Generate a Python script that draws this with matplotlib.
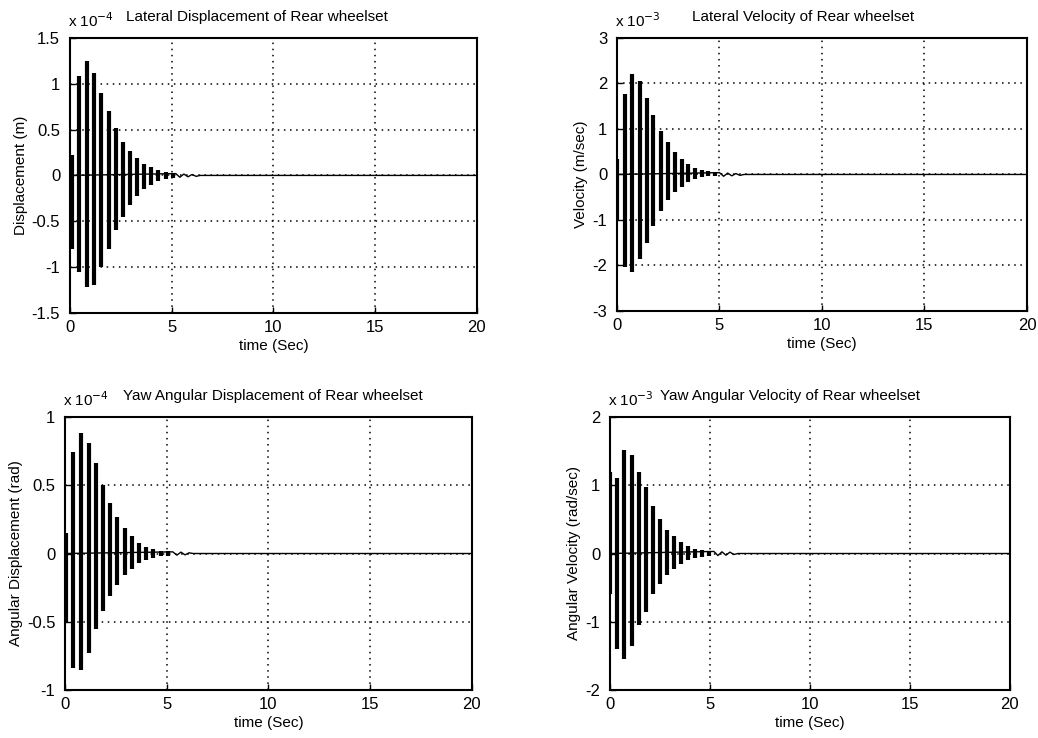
import matplotlib
matplotlib.use("Agg")
import matplotlib.pyplot as plt

plt.rcParams['font.family'] = ['Liberation Sans', 'DejaVu Sans']

# ---------------- data ----------------
x_ticks = [0, 5, 10, 15, 20]
x_tick_labels = ["0", "5", "10", "15", "20"]

# Panel 1: lateral displacement (x 1e-4 m)
p1_t   = [0.10, 0.45, 0.85, 1.20, 1.55, 1.90, 2.25, 2.60, 2.95, 3.30, 3.65, 4.00, 4.35, 4.70, 5.05]
p1_top = [0.22, 1.08, 1.25, 1.12, 0.90, 0.70, 0.52, 0.37, 0.27, 0.19, 0.13, 0.09, 0.06, 0.04, 0.025]
p1_bot = [-0.80, -1.05, -1.22, -1.20, -1.00, -0.80, -0.60, -0.45, -0.32, -0.22, -0.15, -0.10, -0.06, -0.04, -0.025]
p1_tail_t = [0.0, 5.2, 5.4, 5.6, 5.8, 6.0, 6.2, 6.4, 20.0]
p1_tail_v = [0.0, 0.02, -0.02, 0.015, -0.015, 0.01, -0.01, 0.0, 0.0]
p1_yticks = [-1.5, -1, -0.5, 0, 0.5, 1, 1.5]
p1_ylabels = ["-1.5", "-1", "-0.5", "0", "0.5", "1", "1.5"]

# Panel 2: lateral velocity (x 1e-3 m/sec)
p2_t   = [0.02, 0.39, 0.75, 1.12, 1.45, 1.77, 2.13, 2.50, 2.83, 3.15, 3.48, 3.80, 4.13, 4.46, 4.80]
p2_top = [0.35, 1.76, 2.20, 2.05, 1.69, 1.30, 0.96, 0.71, 0.49, 0.35, 0.24, 0.15, 0.10, 0.07, 0.04]
p2_bot = [-1.03, -2.04, -2.15, -1.86, -1.50, -1.14, -0.81, -0.56, -0.38, -0.27, -0.16, -0.10, -0.06, -0.04, -0.03]
p2_tail_t = [0.0, 5.0, 5.2, 5.4, 5.6, 5.8, 6.0, 6.2, 20.0]
p2_tail_v = [0.0, 0.04, -0.04, 0.03, -0.03, 0.02, -0.02, 0.0, 0.0]
p2_yticks = [-3, -2, -1, 0, 1, 2, 3]
p2_ylabels = ["-3", "-2", "-1", "0", "1", "2", "3"]

# Panel 3: yaw angular displacement (x 1e-4 rad)
p3_t   = [0.07, 0.39, 0.80, 1.18, 1.54, 1.87, 2.23, 2.57, 2.93, 3.29, 3.65, 4.00, 4.35, 4.70, 5.05]
p3_top = [0.15, 0.74, 0.88, 0.81, 0.66, 0.50, 0.37, 0.27, 0.19, 0.13, 0.08, 0.05, 0.035, 0.02, 0.015]
p3_bot = [-0.50, -0.84, -0.85, -0.73, -0.55, -0.42, -0.31, -0.23, -0.16, -0.11, -0.07, -0.05, -0.035, -0.02, -0.015]
p3_tail_t = [0.0, 5.3, 5.5, 5.7, 5.9, 6.1, 6.3, 20.0]
p3_tail_v = [0.0, 0.012, -0.012, 0.01, -0.01, 0.005, 0.0, 0.0]
p3_yticks = [-1, -0.5, 0, 0.5, 1]
p3_ylabels = ["-1", "-0.5", "0", "0.5", "1"]

# Panel 4: yaw angular velocity (x 1e-3 rad/sec)
p4_t   = [0.02, 0.37, 0.72, 1.08, 1.45, 1.80, 2.17, 2.50, 2.83, 3.20, 3.53, 3.88, 4.23, 4.58, 4.93]
p4_top = [1.20, 1.10, 1.52, 1.45, 1.20, 0.98, 0.70, 0.50, 0.35, 0.25, 0.17, 0.11, 0.07, 0.05, 0.03]
p4_bot = [-0.60, -1.40, -1.55, -1.35, -1.05, -0.85, -0.60, -0.45, -0.32, -0.22, -0.15, -0.10, -0.07, -0.05, -0.03]
p4_tail_t = [0.0, 5.2, 5.4, 5.6, 5.8, 6.0, 6.2, 6.4, 20.0]
p4_tail_v = [0.0, 0.03, -0.03, 0.025, -0.025, 0.02, -0.015, 0.0, 0.0]
p4_yticks = [-2, -1, 0, 1, 2]
p4_ylabels = ["-2", "-1", "0", "1", "2"]

titles = ["Lateral Displacement of Rear wheelset",
          "Lateral Velocity of Rear wheelset",
          "Yaw Angular Displacement of Rear wheelset",
          "Yaw Angular Velocity of Rear wheelset"]
ylabels = ["Displacement (m)", "Velocity (m/sec)",
           "Angular Displacement (rad)", "Angular Velocity (rad/sec)"]
exponents = [r"x 10$^{-4}$", r"x 10$^{-3}$", r"x 10$^{-4}$", r"x 10$^{-3}$"]
xlabel = "time (Sec)"

# ---------------- layout ----------------
fig = plt.figure(figsize=(10.38, 7.38), dpi=100)
rects = [[0.0674, 0.576, 0.392, 0.3726],
         [0.5944, 0.5786, 0.395, 0.370],
         [0.0626, 0.065, 0.392, 0.370],
         [0.5877, 0.065, 0.385, 0.370]]
title_x = [0.46, 0.455, 0.51, 0.45]

panels = [
    (p1_t, p1_top, p1_bot, p1_tail_t, p1_tail_v, p1_yticks, p1_ylabels),
    (p2_t, p2_top, p2_bot, p2_tail_t, p2_tail_v, p2_yticks, p2_ylabels),
    (p3_t, p3_top, p3_bot, p3_tail_t, p3_tail_v, p3_yticks, p3_ylabels),
    (p4_t, p4_top, p4_bot, p4_tail_t, p4_tail_v, p4_yticks, p4_ylabels),
]

fs = 11
for i, (t, top, bot, tt, tv, yt, yl) in enumerate(panels):
    ax = fig.add_axes(rects[i])
    ax.plot(tt, tv, color="black", lw=1.0, zorder=2)
    ax.vlines(t, bot, top, color="black", lw=3.0, zorder=3)
    ax.set_xlim(0, 20)
    ax.set_ylim(yt[0], yt[-1])
    ax.set_xticks(x_ticks)
    ax.set_xticklabels(x_tick_labels, fontsize=fs + 1)
    ax.set_yticks(yt)
    ax.set_yticklabels(yl, fontsize=fs + 1)
    ax.tick_params(direction="in", length=4, width=1)
    ax.tick_params(axis="x", pad=5)
    ax.tick_params(axis="y", pad=7)
    ax.grid(True, color="black", linestyle=(0, (1, 3)), linewidth=1.1)
    for s in ax.spines.values():
        s.set_linewidth(1.5)
    ax.set_xlabel(xlabel, fontsize=fs, labelpad=3)
    ax.set_ylabel(ylabels[i], fontsize=fs, labelpad=3)
    ax.text(title_x[i], 1.05, titles[i], transform=ax.transAxes,
            ha="center", va="bottom", fontsize=fs)
    ax.text(-0.005, 1.03, exponents[i], transform=ax.transAxes,
            ha="left", va="bottom", fontsize=fs)

fig.savefig("out.png", dpi=100)
